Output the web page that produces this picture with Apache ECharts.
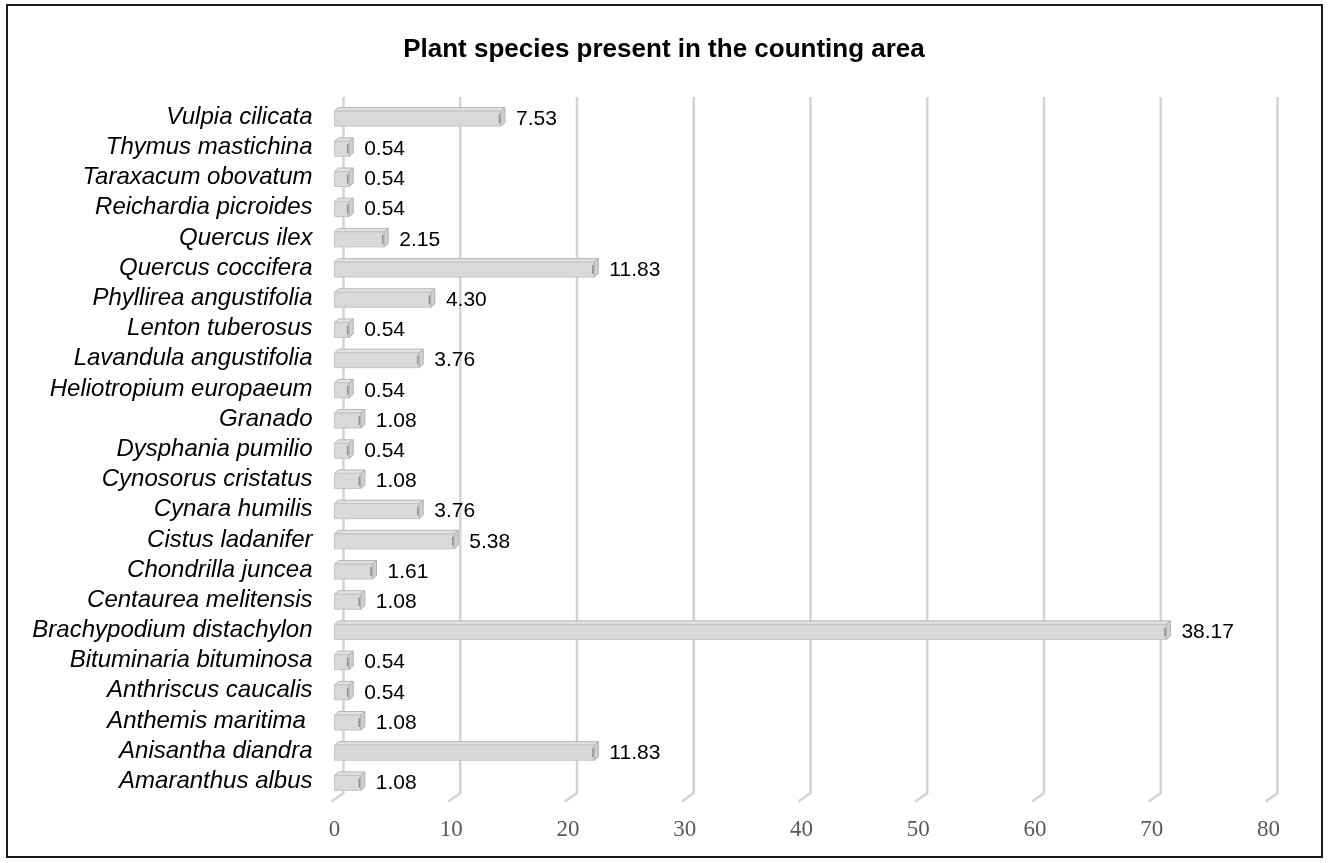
<!DOCTYPE html>
<html>
<head>
<meta charset="utf-8">
<title>Plant species present in the counting area</title>
<script src="https://cdn.jsdelivr.net/npm/echarts@6/dist/echarts.min.js"></script>
<style>
  html, body { margin: 0; padding: 0; background: #ffffff; }
  #chart { width: 1328px; height: 863px; }
</style>
</head>
<body>
<div id="chart"></div>
<script>
// Species recorded in the counting area (bottom to top on the chart)
const species = [
  'Amaranthus albus', 'Anisantha diandra', 'Anthemis maritima ', 'Anthriscus caucalis',
  'Bituminaria bituminosa', 'Brachypodium distachylon', 'Centaurea melitensis',
  'Chondrilla juncea', 'Cistus ladanifer', 'Cynara humilis', 'Cynosorus cristatus',
  'Dysphania pumilio', 'Granado', 'Heliotropium europaeum', 'Lavandula angustifolia',
  'Lenton tuberosus', 'Phyllirea angustifolia', 'Quercus coccifera', 'Quercus ilex',
  'Reichardia picroides', 'Taraxacum obovatum', 'Thymus mastichina', 'Vulpia cilicata'
];

// Number of individuals counted per species
const counts = [2, 22, 2, 1, 1, 71, 2, 3, 10, 7, 2, 1, 2, 1, 7, 1, 8, 22, 4, 1, 1, 1, 14];

// Value-axis ticks
const axisTicks = [0, 10, 20, 30, 40, 50, 60, 70, 80];

const total = counts.reduce((a, b) => a + b, 0);
const share = c => (c / total * 100).toFixed(2);

const chart = echarts.init(document.getElementById('chart'));

// Back-wall gridlines with a slanted foot on the floor
function renderWall(params, api) {
  const x = api.coord([api.value(0), 0])[0];
  const cs = params.coordSys;
  const top = cs.y - 5;
  const bottom = cs.y + cs.height - 3.5;
  const style = { stroke: '#d3d3d3', lineWidth: 2.5, fill: null };
  return {
    type: 'group',
    children: [
      { type: 'polyline', shape: { points: [[x, top], [x, bottom], [x - 12, bottom + 8.5]] }, style: style }
    ]
  };
}

// Bars drawn as shallow boxes: front face, top face and end face
function renderBar(params, api) {
  const v = api.value(0);
  const c = api.value(1);
  const p0 = api.coord([0, c]);
  const p1 = api.coord([v, c]);
  const yc = p0[1];
  const x0 = p0[0] - 9;
  const x1 = p1[0] - 6;
  const d = 4, h = 3.5;
  const yt = yc - 6, yb = yc + 9;
  return {
    type: 'group',
    children: [
      { type: 'polygon', shape: { points: [[x0, yt], [x0 + d, yt - h], [x1 + d, yt - h], [x1, yt]] },
        style: { fill: '#e2e2e2', stroke: '#b5b5b5', lineWidth: 1 } },
      { type: 'rect', shape: { x: x0, y: yt, width: x1 - x0, height: yb - yt },
        style: { fill: '#d9d9d9', stroke: '#c4c4c4', lineWidth: 1 } },
      { type: 'polygon', shape: { points: [[x1, yt], [x1 + d, yt - h], [x1 + d, yb - h], [x1, yb]] },
        style: { fill: '#d0d0d0', stroke: '#b0b0b0', lineWidth: 1 } },
      { type: 'line', shape: { x1: x1 - 1.5, y1: yt + 3, x2: x1 - 1.5, y2: yb - 3 },
        style: { stroke: '#8f8f8f', lineWidth: 1.5 } },
      { type: 'text', style: {
          text: share(v), x: p1[0] + 9, y: yc + 2,
          fill: '#000000', font: '21px "Liberation Sans", Arial, sans-serif',
          verticalAlign: 'middle', align: 'left' } }
    ]
  };
}

chart.setOption({
  backgroundColor: '#ffffff',
  animation: false,
  title: {
    text: 'Plant species present in the counting area',
    left: 'center',
    top: 32,
    textStyle: { fontFamily: '"Liberation Sans", Arial, sans-serif', fontWeight: 'bold', fontSize: 26, color: '#000000' }
  },
  graphic: [{
    type: 'rect',
    shape: { x: 7, y: 5, width: 1315, height: 852 },
    style: { fill: null, stroke: '#1a1a1a', lineWidth: 2 },
    z: 100
  }],
  grid: { left: 343.5, right: 50.5, top: 102, bottom: 66.5, containLabel: false },
  xAxis: {
    type: 'value',
    min: 0, max: 80, interval: 10,
    axisLine: { show: false },
    axisTick: { show: false },
    splitLine: { show: false },
    axisLabel: {
      margin: 22,
      padding: [0, 18, 0, 0],
      fontFamily: '"Liberation Serif", "DejaVu Serif", serif',
      fontSize: 23,
      color: '#595959'
    }
  },
  yAxis: {
    type: 'category',
    data: species,
    axisLine: { show: false },
    axisTick: { show: false },
    splitLine: { show: false },
    axisLabel: {
      interval: 0,
      margin: 31,
      fontFamily: '"Liberation Sans", Arial, sans-serif',
      fontStyle: 'italic',
      fontSize: 24,
      color: '#000000'
    }
  },
  series: [
    {
      type: 'custom',
      renderItem: renderWall,
      data: axisTicks.map(t => [t, 0]),
      encode: { x: 0, y: 1 },
      clip: false,
      silent: true,
      z: 1
    },
    {
      type: 'custom',
      renderItem: renderBar,
      data: counts.map((c, i) => [c, i]),
      encode: { x: 0, y: 1 },
      clip: false,
      z: 2
    }
  ]
});
</script>
</body>
</html>
